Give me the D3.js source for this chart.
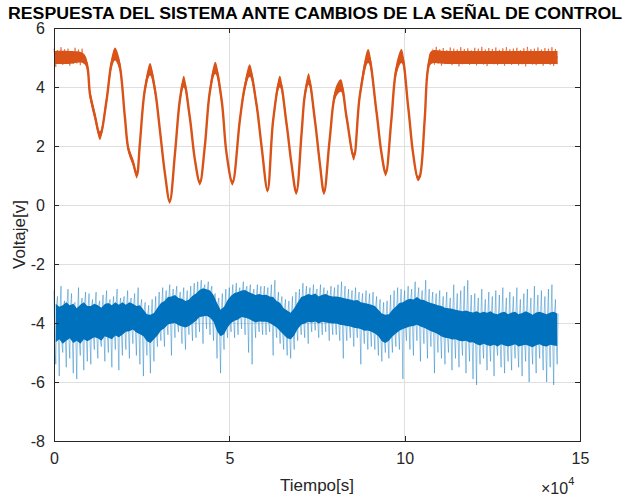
<!DOCTYPE html>
<html><head><meta charset="utf-8">
<script src="https://cdn.jsdelivr.net/npm/d3@7"></script>
<style>
html,body{margin:0;padding:0;background:#fff;}
svg{display:block;font-family:"Liberation Sans",Arial,Helvetica,sans-serif;}
</style></head>
<body>
<svg id="chart" width="627" height="498"></svg>
<script>
// ---------------- DATA ----------------
const titleText = "RESPUESTA DEL SISTEMA ANTE CAMBIOS DE LA SEÑAL DE CONTROL";
const xLabel = "Tiempo[s]";
const yLabel = "Voltaje[v]";
const xTicks = [0, 50000, 100000, 150000];
const xTickLabels = ["0", "5", "10", "15"];
const yTicks = [-8, -6, -4, -2, 0, 2, 4, 6];
const yTickLabels = ["-8", "-6", "-4", "-2", "0", "2", "4", "6"];

// Orange series (system response): centre line and noise half-width
const orangeT = [0,4000,8600,10300,11700,13100,15000,16400,17400,18600,20200,21200,22600,23600,24500,25900,27400,28800,30200,31600,33000,34500,35900,37000,38700,40200,41600,43000,44400,46000,47800,49200,50900,53000,54400,55800,57700,59200,60900,62500,64400,66300,67700,69100,70600,71500,72600,74400,75800,77000,78600,80300,81800,83400,85500,87200,89600,91900,93400,94600,96200,97600,99100,101000,102400,103800,104300,105700,106600,107600,112000,143600];
const orangeV = [5.0,5.0,4.95,3.73,3.0,2.35,3.56,4.8,5.12,4.8,3.0,1.9,1.42,1.0,2.1,3.9,4.6,3.9,2.54,1.1,0.12,1.75,3.56,4.18,3.0,1.52,0.75,1.98,3.8,4.65,3.56,1.75,0.75,2.88,4.0,4.56,3.45,1.98,0.5,2.88,4.18,2.77,1.42,0.42,2.43,3.7,4.27,2.88,1.42,0.42,2.2,3.8,4.05,3.0,1.64,3.7,5.05,3.22,1.75,1.07,2.88,4.58,5.05,3.33,1.75,0.9,0.96,2.88,4.58,5.0,5.0,5.0];
const orangeN = [0.22,0.22,0.17,0.18,0.16,0.15,0.17,0.2,0.22,0.2,0.16,0.13,0.13,0.1,0.13,0.18,0.21,0.18,0.14,0.1,0.08,0.12,0.16,0.2,0.15,0.12,0.09,0.13,0.18,0.21,0.16,0.12,0.09,0.15,0.18,0.21,0.16,0.13,0.08,0.15,0.2,0.14,0.12,0.08,0.13,0.18,0.2,0.15,0.12,0.08,0.13,0.18,0.21,0.15,0.13,0.18,0.24,0.16,0.12,0.1,0.15,0.21,0.24,0.16,0.12,0.09,0.09,0.14,0.2,0.22,0.22,0.22];

// Orange plateau noise extremes (every 1000 s)
const orangeP1T = [0,1000,2000,3000,4000,5000,6000,7000,8000];
const orangeP1Hi = [5.3,5.25,5.35,5.28,5.3,5.22,5.33,5.27,5.3];
const orangeP1Lo = [4.68,4.8,4.75,4.82,4.72,4.78,4.8,4.74,4.8];
const orangeP2T = [108000,109000,110000,111000,112000,113000,114000,115000,116000,117000,118000,119000,120000,121000,122000,123000,124000,125000,126000,127000,128000,129000,130000,131000,132000,133000,134000,135000,136000,137000,138000,139000,140000,141000,142000,143000];
const orangeP2Hi = [5.3,5.36,5.28,5.32,5.25,5.34,5.3,5.27,5.35,5.29,5.31,5.24,5.33,5.3,5.36,5.27,5.32,5.29,5.34,5.26,5.31,5.35,5.28,5.3,5.33,5.25,5.31,5.36,5.28,5.3,5.34,5.27,5.32,5.3,5.35,5.29];
const orangeP2Lo = [4.76,4.8,4.72,4.78,4.82,4.74,4.79,4.7,4.77,4.81,4.75,4.78,4.73,4.8,4.76,4.71,4.79,4.77,4.74,4.8,4.72,4.78,4.75,4.81,4.73,4.77,4.7,4.79,4.76,4.74,4.8,4.72,4.78,4.75,4.71,4.77];

// Blue series (control signal), one bin every 1000 s: dense core edges and spike tips
const blueCoreHi = [-3.35,-3.45,-3.4,-3.3,-3.4,-3.35,-3.5,-3.38,-3.3,-3.42,
  -3.42,-3.35,-3.4,-3.48,-3.36,-3.32,-3.4,-3.3,-3.38,-3.3,
  -3.38,-3.3,-3.35,-3.42,-3.4,-3.55,-3.7,-3.72,-3.66,-3.48,
  -3.32,-3.25,-3.12,-3.1,-3.05,-3.15,-3.18,-3.25,-3.2,-3.08,
  -3.0,-2.88,-2.82,-2.86,-2.9,-3.05,-3.32,-3.55,-3.45,-3.22,
  -3.08,-2.98,-2.95,-2.9,-2.88,-2.95,-3.0,-3.05,-3.02,-3.05,
  -3.04,-3.1,-3.12,-3.25,-3.32,-3.5,-3.58,-3.65,-3.5,-3.3,
  -3.12,-3.08,-3.02,-3.05,-3.0,-3.1,-3.04,-3.02,-3.08,-3.1,
  -3.1,-3.12,-3.15,-3.18,-3.2,-3.24,-3.22,-3.3,-3.32,-3.35,
  -3.38,-3.42,-3.55,-3.68,-3.72,-3.7,-3.55,-3.44,-3.32,-3.3,
  -3.22,-3.18,-3.2,-3.12,-3.2,-3.22,-3.28,-3.32,-3.36,-3.4,
  -3.42,-3.48,-3.5,-3.52,-3.55,-3.58,-3.6,-3.58,-3.62,-3.64,
  -3.6,-3.66,-3.62,-3.65,-3.6,-3.68,-3.7,-3.64,-3.62,-3.7,
  -3.64,-3.62,-3.7,-3.66,-3.6,-3.65,-3.72,-3.64,-3.62,-3.66,
  -3.7,-3.64,-3.62,-3.68];
const blueCoreLo = [-4.65,-4.55,-4.7,-4.6,-4.52,-4.68,-4.6,-4.7,-4.55,-4.62,
  -4.55,-4.48,-4.52,-4.6,-4.45,-4.5,-4.55,-4.42,-4.48,-4.4,
  -4.3,-4.28,-4.22,-4.32,-4.38,-4.45,-4.62,-4.68,-4.55,-4.42,
  -4.25,-4.18,-4.05,-4.02,-4.0,-4.08,-4.12,-4.15,-4.1,-4.02,
  -3.92,-3.8,-3.78,-3.75,-3.82,-3.96,-4.28,-4.45,-4.38,-4.15,
  -4.0,-3.92,-3.88,-3.8,-3.82,-3.86,-3.92,-3.98,-3.95,-3.96,
  -3.96,-4.0,-4.08,-4.15,-4.28,-4.4,-4.52,-4.55,-4.42,-4.2,
  -4.06,-4.02,-3.96,-3.98,-3.95,-4.02,-3.96,-3.98,-4.0,-4.02,
  -4.02,-4.06,-4.08,-4.1,-4.12,-4.16,-4.18,-4.2,-4.26,-4.25,
  -4.3,-4.36,-4.45,-4.62,-4.68,-4.6,-4.46,-4.36,-4.26,-4.2,
  -4.16,-4.12,-4.1,-4.06,-4.12,-4.16,-4.22,-4.28,-4.32,-4.38,
  -4.46,-4.5,-4.52,-4.56,-4.55,-4.6,-4.62,-4.6,-4.66,-4.65,
  -4.72,-4.76,-4.7,-4.75,-4.78,-4.74,-4.8,-4.72,-4.76,-4.8,
  -4.76,-4.72,-4.8,-4.76,-4.74,-4.78,-4.82,-4.75,-4.72,-4.78,
  -4.8,-4.74,-4.76,-4.78];
const blueHi = [-2.9,-3.1,-2.75,-3.25,-2.85,-3.0,-3.3,-2.8,-3.15,-2.95,
  -3.0,-3.2,-2.95,-3.25,-3.05,-2.9,-3.2,-3.1,-2.85,-3.15,
  -3.1,-2.9,-3.15,-3.0,-2.8,-3.2,-3.3,-3.4,-3.2,-3.1,
  -2.95,-2.8,-2.9,-2.7,-2.85,-2.75,-2.95,-2.8,-2.9,-2.75,
  -2.65,-2.6,-2.55,-2.7,-2.6,-2.75,-3.0,-3.15,-3.0,-2.85,
  -2.8,-2.7,-2.65,-2.8,-2.6,-2.75,-2.7,-2.85,-2.7,-2.75,
  -2.75,-2.8,-2.7,-2.55,-2.95,-3.1,-3.2,-3.25,-3.1,-2.95,
  -2.85,-2.65,-2.75,-2.8,-2.7,-2.85,-2.7,-2.8,-2.9,-2.75,
  -2.8,-2.7,-2.6,-2.75,-2.85,-2.9,-2.8,-2.95,-3.0,-2.9,
  -3.0,-2.95,-3.1,-3.2,-3.3,-3.25,-3.05,-2.9,-2.8,-2.85,
  -2.9,-2.75,-2.85,-2.6,-2.8,-2.9,-2.55,-2.85,-2.95,-3.0,
  -2.9,-3.1,-2.95,-3.15,-2.7,-3.0,-2.9,-2.75,-2.55,-3.05,
  -3.0,-3.15,-2.85,-3.2,-2.95,-3.1,-2.9,-3.05,-2.8,-3.15,
  -2.95,-3.1,-2.8,-3.2,-3.0,-2.85,-3.15,-2.75,-3.05,-2.9,
  -3.1,-2.85,-2.7,-3.2];
const blueLo = [-5.4,-5.8,-5.0,-5.5,-5.2,-5.7,-5.9,-5.1,-5.6,-5.3,
  -5.4,-4.9,-5.2,-4.8,-5.3,-5.0,-5.5,-4.9,-5.6,-5.1,
  -4.9,-5.2,-4.7,-5.1,-5.4,-5.8,-5.1,-5.7,-5.3,-4.8,
  -4.6,-4.8,-4.4,-5.1,-4.5,-4.3,-4.7,-4.9,-4.4,-4.6,
  -4.5,-4.3,-4.7,-4.2,-4.4,-4.6,-5.2,-5.7,-4.9,-4.5,
  -4.3,-4.5,-4.4,-4.2,-4.4,-5.0,-5.4,-4.5,-4.3,-4.4,
  -4.4,-4.3,-5.1,-4.5,-4.7,-4.9,-5.1,-5.2,-4.9,-4.6,
  -4.4,-4.5,-4.7,-4.3,-4.25,-4.5,-4.4,-4.3,-4.6,-4.4,
  -4.4,-4.6,-5.2,-4.6,-4.5,-4.8,-4.5,-5.4,-4.7,-4.9,
  -4.8,-4.9,-5.1,-5.3,-5.0,-5.2,-5.0,-4.8,-4.9,-5.9,
  -4.6,-4.9,-5.1,-4.6,-5.3,-4.7,-5.2,-4.8,-5.7,-5.0,
  -5.2,-5.4,-5.0,-5.6,-5.2,-5.5,-5.1,-5.7,-5.3,-5.9,
  -6.1,-5.4,-5.2,-5.6,-5.3,-5.8,-5.1,-5.5,-5.7,-5.3,
  -5.6,-5.2,-5.5,-5.8,-5.3,-6.0,-5.4,-5.7,-5.2,-5.6,
  -6.0,-5.5,-6.1,-5.4];

// ---------------- CHART ----------------
(function () {
const svg = d3.select("#chart");
const mL = 54, mR = 580, mT = 28, mB = 441;
const x = d3.scaleLinear().domain([0, 150000]).range([mL, mR]);
const y = d3.scaleLinear().domain([-8, 6]).range([mB, mT]);

const orange = "#D95319", blue = "#0072BD";
const axisColor = "#262626";
const binW = 1000;

// grid
const g = svg.append("g");
g.selectAll(".gx").data(xTicks.slice(1, -1)).enter().append("line")
  .attr("x1", d => x(d)).attr("x2", d => x(d)).attr("y1", mT).attr("y2", mB)
  .attr("stroke", "#dfdfdf").attr("stroke-width", 1).attr("shape-rendering", "crispEdges");
g.selectAll(".gy").data(yTicks.slice(1, -1)).enter().append("line")
  .attr("x1", mL).attr("x2", mR).attr("y1", d => y(d)).attr("y2", d => y(d))
  .attr("stroke", "#dfdfdf").attr("stroke-width", 1).attr("shape-rendering", "crispEdges");

// blue core band
const coreData = blueCoreHi.map((h, i) => ({t: i * binW + binW / 2, hi: h, lo: blueCoreLo[i]}));
svg.append("path").datum(coreData)
  .attr("d", d3.area().x(d => x(d.t)).y0(d => y(d.lo)).y1(d => y(d.hi)))
  .attr("fill", blue);
// blue spikes: up spike, through core, down spike, back through core
const bluePts = [];
blueHi.forEach((h, i) => {
  const t = i * binW;
  bluePts.push([t, h]);
  bluePts.push([t + 250, blueCoreLo[i]]);
  bluePts.push([t + 500, blueLo[i]]);
  bluePts.push([t + 750, blueCoreHi[i]]);
});
svg.append("path").datum(bluePts)
  .attr("d", d3.line().x(d => x(d[0])).y(d => y(d[1])))
  .attr("fill", "none").attr("stroke", blue).attr("stroke-width", 0.55).attr("stroke-opacity", 0.75);

// orange plateaus spikes
[[orangeP1T, orangeP1Hi, orangeP1Lo], [orangeP2T, orangeP2Hi, orangeP2Lo]].forEach(([T, Hi, Lo]) => {
  const pts = [];
  T.forEach((t, i) => { pts.push([t, Hi[i]]); pts.push([t + 500, Lo[i]]); });
  svg.append("path").datum(pts)
    .attr("d", d3.line().x(d => x(d[0])).y(d => y(d[1])))
    .attr("fill", "none").attr("stroke", orange).attr("stroke-width", 0.7).attr("stroke-opacity", 0.9);
});
// orange band + centre line
const oData = orangeT.map((t, i) => ({t, v: orangeV[i], n: orangeN[i]}));
svg.append("path").datum(oData)
  .attr("d", d3.area().x(d => x(d.t)).y0(d => y(d.v - d.n)).y1(d => y(d.v + d.n)).curve(d3.curveCatmullRom))
  .attr("fill", orange);
svg.append("path").datum(oData)
  .attr("d", d3.line().x(d => x(d.t)).y(d => y(d.v)).curve(d3.curveCatmullRom))
  .attr("fill", "none").attr("stroke", orange).attr("stroke-width", 2.4);

// box
svg.append("rect").attr("x", mL).attr("y", mT).attr("width", mR - mL).attr("height", mB - mT)
  .attr("fill", "none").attr("stroke", axisColor).attr("stroke-width", 1).attr("shape-rendering", "crispEdges");

// axes (ticks inward)
const xAxisB = d3.axisBottom(x).tickValues(xTicks).tickSize(-5).tickPadding(12)
  .tickFormat((d, i) => xTickLabels[i]);
const xAxisT = d3.axisTop(x).tickValues(xTicks).tickSize(-5).tickFormat("");
const yAxisL = d3.axisLeft(y).tickValues(yTicks).tickSize(-5).tickPadding(9)
  .tickFormat((d, i) => yTickLabels[i]);
const yAxisR = d3.axisRight(y).tickValues(yTicks).tickSize(-5).tickFormat("");
function style(sel) {
  sel.select(".domain").remove();
  sel.selectAll("line").attr("stroke", axisColor).attr("shape-rendering", "crispEdges");
  sel.selectAll("text").attr("fill", axisColor).style("font-size", "16px")
    .style("font-family", '"Liberation Sans",Arial,Helvetica,sans-serif');
}
svg.append("g").attr("transform", `translate(0,${mB})`).call(xAxisB).call(style);
svg.append("g").attr("transform", `translate(0,${mT})`).call(xAxisT).call(style);
svg.append("g").attr("transform", `translate(${mL},0)`).call(yAxisL).call(style);
svg.append("g").attr("transform", `translate(${mR},0)`).call(yAxisR).call(style);

// labels
svg.append("text").attr("x", (mL + mR) / 2).attr("y", 491).attr("text-anchor", "middle")
  .attr("fill", axisColor).style("font-size", "17px").text(xLabel);
svg.append("text").attr("transform", `translate(25,${(mT + mB) / 2}) rotate(-90)`)
  .attr("text-anchor", "middle").attr("fill", axisColor).style("font-size", "17px").text(yLabel);
const ex = svg.append("text").attr("x", 541).attr("y", 494).attr("fill", axisColor).style("font-size", "16px");
ex.append("tspan").text("×10");
ex.append("tspan").attr("dy", -9).style("font-size", "11px").text("4");

// title
svg.append("text").attr("x", 8).attr("y", 19).attr("fill", "#000")
  .style("font-size", "16px").style("font-weight", "bold")
  .attr("textLength", 614).attr("lengthAdjust", "spacingAndGlyphs").text(titleText);
})();
</script>
</body></html>
